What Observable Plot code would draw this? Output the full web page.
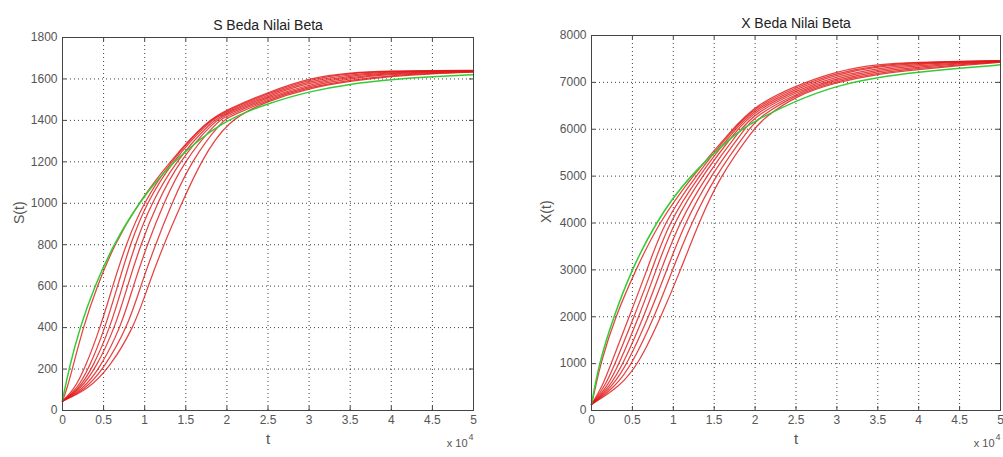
<!DOCTYPE html>
<html><head><meta charset="utf-8">
<script src="https://cdn.jsdelivr.net/npm/d3@7"></script>
<script src="https://cdn.jsdelivr.net/npm/@observablehq/plot@0.6"></script>
<style>
body{margin:0;background:#fff;}
#wrap{display:flex;width:1003px;height:457px;overflow:hidden;}
#wrap svg{display:block;}
</style></head><body><div id="wrap"></div>
<script>
// ---- tick values ----
const tTicks = [0, 0.5, 1, 1.5, 2, 2.5, 3, 3.5, 4, 4.5, 5];
const sTicks = [0, 200, 400, 600, 800, 1000, 1200, 1400, 1600, 1800];
const xvTicks = [0, 1000, 2000, 3000, 4000, 5000, 6000, 7000, 8000];

// ---- S(t): [t (x10^4), value] ----
const sGreen = [[0,50],[0.077,200],[0.21,400],[0.39,600],[0.62,800],[0.92,1000],[1.33,1200],[1.95,1400],[2.5,1482],[3,1540],[3.5,1576],[4,1597],[4.5,1611],[5,1620]];
const sRed1 = [[0,45],[0.05,100],[0.12,200],[0.25,400],[0.42,600],[0.63,800],[0.92,1000],[1.30,1200],[1.76,1400],[2.0,1452],[2.5,1536],[3,1605],[3.5,1632],[4,1639],[4.5,1641],[5,1641]];
const sRed2 = [[0,45],[0.14,100],[0.27,200],[0.46,400],[0.61,600],[0.77,800],[0.98,1000],[1.31,1200],[1.77,1400],[2.0,1448],[2.5,1530],[3,1598],[3.5,1628],[4,1637],[4.5,1640],[5,1640]];
const sRed3 = [[0,45],[0.17,100],[0.32,200],[0.52,400],[0.67,600],[0.82,800],[1.02,1000],[1.33,1200],[1.79,1400],[2.0,1442],[2.5,1524],[3,1590],[3.5,1622],[4,1634],[4.5,1638],[5,1639]];
const sRed4 = [[0,45],[0.19,100],[0.36,200],[0.58,400],[0.73,600],[0.88,800],[1.08,1000],[1.37,1200],[1.82,1400],[2.0,1436],[2.5,1518],[3,1582],[3.5,1616],[4,1631],[4.5,1636],[5,1638]];
const sRed5 = [[0,45],[0.21,100],[0.40,200],[0.64,400],[0.79,600],[0.95,800],[1.15,1000],[1.41,1200],[1.85,1400],[2.0,1428],[2.5,1512],[3,1574],[3.5,1609],[4,1627],[4.5,1634],[5,1637]];
const sRed6 = [[0,45],[0.24,100],[0.45,200],[0.71,400],[0.86,600],[1.03,800],[1.23,1000],[1.47,1200],[1.89,1400],[2.0,1420],[2.5,1506],[3,1567],[3.5,1603],[4,1622],[4.5,1631],[5,1636]];
const sRed7 = [[0,45],[0.27,100],[0.50,200],[0.79,400],[0.95,600],[1.13,800],[1.33,1000],[1.56,1200],[1.94,1400],[2.05,1420],[2.5,1500],[3,1561],[3.5,1596],[4,1617],[4.5,1628],[5,1634]];
const sRed8 = [[0,45],[0.30,100],[0.56,200],[0.87,400],[1.04,600],[1.23,800],[1.45,1000],[1.68,1200],[2.0,1400],[2.5,1495],[3,1555],[3.5,1590],[4,1612],[4.5,1626],[5,1633]];

// ---- X(t): [t (x10^4), value] ----
const xGreen = [[0,130],[0.09,1000],[0.27,2000],[0.49,3000],[0.78,4000],[1.18,5000],[1.82,6000],[2.0,6180],[2.5,6613],[3,6933],[3.5,7111],[4,7218],[4.5,7303],[5,7374]];
const xRed1 = [[0,130],[0.05,500],[0.11,1000],[0.29,2000],[0.54,3000],[0.82,4000],[1.23,5000],[1.72,6000],[2.0,6507],[2.5,6933],[3,7240],[3.5,7390],[4,7431],[4.5,7450],[5,7465]];
const xRed2 = [[0,130],[0.13,500],[0.24,1000],[0.46,2000],[0.68,3000],[0.88,4000],[1.27,5000],[1.73,6000],[2.0,6470],[2.5,6900],[3,7205],[3.5,7365],[4,7420],[4.5,7445],[5,7460]];
const xRed3 = [[0,130],[0.16,500],[0.29,1000],[0.52,2000],[0.74,3000],[0.94,4000],[1.31,5000],[1.75,6000],[2.0,6430],[2.5,6865],[3,7175],[3.5,7340],[4,7405],[4.5,7438],[5,7455]];
const xRed4 = [[0,130],[0.19,500],[0.34,1000],[0.58,2000],[0.79,3000],[1.00,4000],[1.35,5000],[1.78,6000],[2.0,6390],[2.5,6830],[3,7135],[3.5,7305],[4,7385],[4.5,7428],[5,7450]];
const xRed5 = [[0,130],[0.22,500],[0.39,1000],[0.64,2000],[0.85,3000],[1.07,4000],[1.40,5000],[1.82,6000],[2.0,6340],[2.5,6800],[3,7095],[3.5,7270],[4,7360],[4.5,7415],[5,7445]];
const xRed6 = [[0,130],[0.25,500],[0.44,1000],[0.70,2000],[0.92,3000],[1.14,4000],[1.45,5000],[1.87,6000],[2.0,6280],[2.5,6770],[3,7060],[3.5,7235],[4,7330],[4.5,7400],[5,7440]];
const xRed7 = [[0,130],[0.29,500],[0.50,1000],[0.77,2000],[0.99,3000],[1.22,4000],[1.51,5000],[1.92,6000],[2.05,6260],[2.5,6745],[3,7030],[3.5,7205],[4,7300],[4.5,7380],[5,7435]];
const xRed8 = [[0,130],[0.34,500],[0.58,1000],[0.85,2000],[1.09,3000],[1.31,4000],[1.57,5000],[1.98,6000],[2.1,6230],[2.5,6720],[3,7004],[3.5,7182],[4,7275],[4.5,7360],[5,7430]];

const SANS = "'Liberation Sans',Arial,Helvetica,sans-serif";

function makeChart(o) {
  const H = 457, mb = 47;
  const ph = H - o.mt - mb, pw = o.width - o.ml - o.mr;
  const red = o.reds.flatMap((c, k) => c.map(([t, v]) => ({t, v, k})));
  const grn = o.green.map(([t, v]) => ({t, v}));
  const gridStyle = {stroke: "#111", strokeOpacity: 0.8, strokeDasharray: "1,3"};
  return Plot.plot({
    width: o.width, height: H,
    marginLeft: o.ml, marginRight: o.mr, marginTop: o.mt, marginBottom: mb,
    style: {fontFamily: SANS, fontSize: "12px", color: "#555", background: "transparent", overflow: "visible"},
    x: {domain: [0, 5], label: null},
    y: {domain: [0, o.ymax], label: null},
    marks: [
      Plot.gridX(tTicks.slice(1, -1), gridStyle),
      Plot.gridY(o.yTicks.slice(1, -1), gridStyle),
      Plot.line(red, {x: "t", y: "v", z: "k", stroke: "#e01818", strokeOpacity: 0.82, strokeWidth: 1.25, curve: "basis"}),
      Plot.line(grn, {x: "t", y: "v", stroke: "#33cc33", strokeWidth: 1.5, curve: "basis"}),
      Plot.tickX(tTicks, {x: d => d, insetTop: ph - 4, stroke: "#444"}),
      Plot.tickX(tTicks, {x: d => d, insetBottom: ph - 4, stroke: "#444"}),
      Plot.tickY(o.yTicks, {y: d => d, insetRight: pw - 4, stroke: "#444"}),
      Plot.tickY(o.yTicks, {y: d => d, insetLeft: pw - 4, stroke: "#444"}),
      Plot.frame({stroke: "#444"}),
      Plot.axisX(tTicks, {tickSize: 0, tickPadding: 5, tickFormat: d => String(d), fontSize: 12}),
      Plot.axisY(o.yTicks, {tickSize: 0, tickPadding: 5, tickFormat: d => String(d), fontSize: 12}),
      Plot.text([o.title], {text: d => d, frameAnchor: "top", dy: -17, fontSize: 14, fill: "#222"}),
      Plot.text([o.ylabel], {text: d => d, frameAnchor: "left", dx: o.ylx, rotate: -90, fontSize: 14, fill: "#555"}),
      Plot.text(["t"], {text: d => d, frameAnchor: "bottom", dy: 33, fontSize: 15, fill: "#555"}),
      Plot.text(["x 10"], {text: d => d, frameAnchor: "bottom-right", textAnchor: "end", dx: -6, dy: 36, fontSize: 11, fill: "#555"}),
      Plot.text(["4"], {text: d => d, frameAnchor: "bottom-right", textAnchor: "start", dx: -5, dy: 29, fontSize: 9, fill: "#555"})
    ]
  });
}

const wrap = document.getElementById("wrap");
wrap.append(makeChart({
  width: 501, ml: 62, mr: 28, mt: 37, ymax: 1800, yTicks: sTicks,
  green: sGreen, reds: [sRed1, sRed2, sRed3, sRed4, sRed5, sRed6, sRed7, sRed8],
  title: "S Beda Nilai Beta", ylabel: "S(t)", ylx: -43
}));
wrap.append(makeChart({
  width: 502, ml: 90, mr: 3, mt: 35, ymax: 8000, yTicks: xvTicks,
  green: xGreen, reds: [xRed1, xRed2, xRed3, xRed4, xRed5, xRed6, xRed7, xRed8],
  title: "X Beda Nilai Beta", ylabel: "X(t)", ylx: -45
}));
</script>
</body></html>
